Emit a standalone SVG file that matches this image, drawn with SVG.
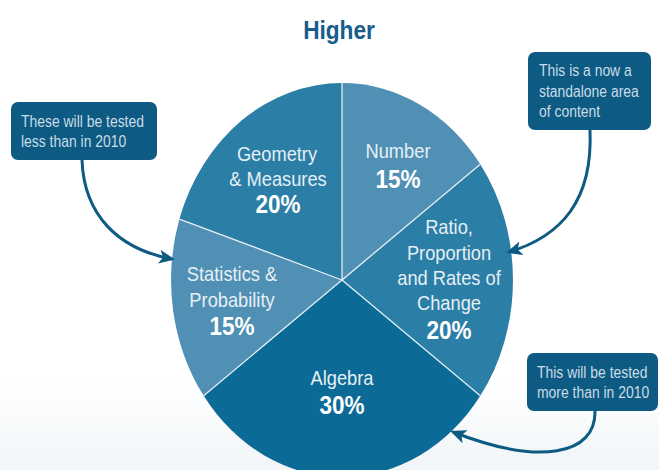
<svg xmlns="http://www.w3.org/2000/svg" width="659" height="470" viewBox="0 0 659 470">
  <defs>
    <linearGradient id="bg" x1="0" y1="0" x2="0" y2="1">
      <stop offset="0" stop-color="#ffffff"/>
      <stop offset="1" stop-color="#f1f5f8"/>
    </linearGradient>
    <marker id="arrow" markerUnits="userSpaceOnUse" markerWidth="18" markerHeight="16" refX="13" refY="7" orient="auto">
      <path d="M0,0 L16,7 L0,14 L4,7 Z" fill="#0d5a82"/>
    </marker>
    <style>
      .lbl { font-family: "Liberation Sans", Arial, sans-serif; font-size: 21px; fill: #e6eff5; text-anchor: middle; }
      .pct { font-family: "Liberation Sans", Arial, sans-serif; font-size: 25px; font-weight: bold; fill: #ffffff; text-anchor: middle; }
      .call { font-family: "Liberation Sans", Arial, sans-serif; font-size: 16px; fill: #c9dce8; }
      .box { fill: #0d5a82; }
      .sep { stroke: #e3edf3; stroke-width: 1.3; fill: none; }
      .conn { stroke: #0d5a82; stroke-width: 3; fill: none; marker-end: url(#arrow); }
      .title { font-family: "Liberation Sans", Arial, sans-serif; font-size: 26px; font-weight: bold; fill: #165d8a; text-anchor: middle; }
    </style>
  </defs>

  <rect x="0" y="0" width="659" height="470" fill="#ffffff"/>
  <rect x="0" y="380" width="659" height="90" fill="url(#bg)"/>

  <g id="title">
    <text class="title" transform="translate(339 39) scale(0.87 1)">Higher</text>
  </g>

  <g id="pie">
    <g id="slice-number">
      <path d="M342,280 L342,83 A171,197 0 0 1 480.3,164.2 Z" fill="#5190b5"/>
      <text class="lbl" transform="translate(398 158) scale(0.87 1)">Number</text>
      <text class="pct" transform="translate(398 188) scale(0.9 1)">15%</text>
    </g>
    <g id="slice-ratio">
      <path d="M342,280 L480.3,164.2 A171,197 0 0 1 480.3,395.8 Z" fill="#2b7ea5"/>
      <text class="lbl" transform="translate(449 234) scale(0.87 1)">Ratio,</text>
      <text class="lbl" transform="translate(449 260) scale(0.87 1)">Proportion</text>
      <text class="lbl" transform="translate(449 285) scale(0.87 1)">and Rates of</text>
      <text class="lbl" transform="translate(449 310) scale(0.87 1)">Change</text>
      <text class="pct" transform="translate(449 339) scale(0.9 1)">20%</text>
    </g>
    <g id="slice-algebra">
      <path d="M342,280 L480.3,395.8 A171,197 0 0 1 203.7,395.8 Z" fill="#0b6b96"/>
      <text class="lbl" transform="translate(342 385) scale(0.87 1)">Algebra</text>
      <text class="pct" transform="translate(342 414) scale(0.9 1)">30%</text>
    </g>
    <g id="slice-statistics">
      <path d="M342,280 L203.7,395.8 A171,197 0 0 1 179.4,219.1 Z" fill="#5190b5"/>
      <text class="lbl" transform="translate(232 281) scale(0.87 1)">Statistics &amp;</text>
      <text class="lbl" transform="translate(232 307) scale(0.87 1)">Probability</text>
      <text class="pct" transform="translate(232 335) scale(0.9 1)">15%</text>
    </g>
    <g id="slice-geometry">
      <path d="M342,280 L179.4,219.1 A171,197 0 0 1 342,83 Z" fill="#2b7ea5"/>
      <text class="lbl" transform="translate(277 161) scale(0.87 1)">Geometry</text>
      <text class="lbl" transform="translate(278 186) scale(0.87 1)">&amp; Measures</text>
      <text class="pct" transform="translate(278 213) scale(0.9 1)">20%</text>
    </g>
    <g id="separators">
      <path class="sep" d="M342,83 L342,280 L480.3,164.2 M342,280 L480.3,395.8 M342,280 L203.7,395.8 M342,280 L179.4,219.1"/>
    </g>
  </g>

  <g id="callout-less">
    <rect class="box" x="11" y="102" width="146" height="58" rx="7"/>
    <text class="call" transform="translate(21 127) scale(0.87 1)">These will be tested</text>
    <text class="call" transform="translate(21 147) scale(0.87 1)">less than in 2010</text>
  </g>

  <g id="callout-standalone">
    <rect class="box" x="528" y="52" width="123" height="78" rx="7"/>
    <text class="call" transform="translate(539 76) scale(0.87 1)">This is a now a</text>
    <text class="call" transform="translate(539 97) scale(0.87 1)">standalone area</text>
    <text class="call" transform="translate(539 117) scale(0.87 1)">of content</text>
  </g>

  <g id="callout-more">
    <rect class="box" x="527" y="353" width="131" height="58" rx="7"/>
    <text class="call" transform="translate(537 378) scale(0.87 1)">This will be tested</text>
    <text class="call" transform="translate(537 398) scale(0.87 1)">more than in 2010</text>
  </g>

  <g id="connectors">
    <path class="conn" d="M82,160 C84,215 118,249 172,259"/>
    <path class="conn" d="M590,130 C593,200 562,236 509,252"/>
    <path class="conn" d="M595,411 C596,455 540,466 453,432"/>
  </g>
</svg>
